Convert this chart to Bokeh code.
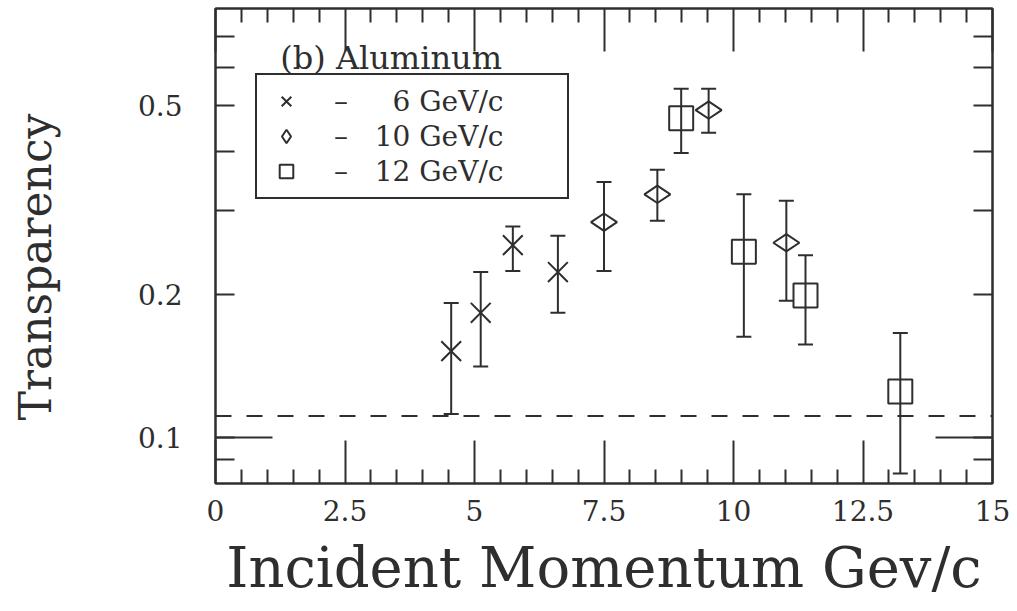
import math
from bokeh.plotting import figure
from bokeh.models import (ColumnDataSource, Whisker, TeeHead, Span, Legend, LegendItem,
                          FixedTicker, LinearAxis, LogAxis, Label)
from bokeh.embed import file_html
from bokeh.resources import INLINE

# ---- data ----
p6_x = [4.55, 5.12, 5.74, 6.61]
p6_y = [0.152, 0.183, 0.254, 0.223]
p6_lo = [0.112, 0.141, 0.224, 0.183]
p6_hi = [0.192, 0.223, 0.278, 0.266]

p10_x = [7.50, 8.53, 9.52, 11.02]
p10_y = [0.284, 0.325, 0.489, 0.257]
p10_lo = [0.224, 0.286, 0.438, 0.194]
p10_hi = [0.345, 0.366, 0.542, 0.315]

p12_x = [8.99, 10.20, 11.39, 13.22]
p12_y = [0.470, 0.246, 0.199, 0.125]
p12_lo = [0.397, 0.163, 0.157, 0.084]
p12_hi = [0.542, 0.325, 0.242, 0.166]

series_labels = ["\u2013   \u20076 GeV/c", "\u2013   10 GeV/c", "\u2013   12 GeV/c"]
baseline_level = 0.111

x_ticks = [0, 2.5, 5, 7.5, 10, 12.5, 15]
x_tick_labels = ["0", "2.5", "5", "7.5", "10", "12.5", "15"]
x_minor = [0.5, 1, 1.5, 2, 3, 3.5, 4, 4.5, 5.5, 6, 6.5, 7, 8, 8.5, 9, 9.5,
           10.5, 11, 11.5, 12, 13, 13.5, 14, 14.5]
y_ticks = [0.1, 0.2, 0.5]
y_tick_labels = ["0.1", "0.2", "0.5"]
y_minor = [0.09, 0.3, 0.4, 0.6, 0.7]
long_tick_level = 0.1
long_tick_len = 1.1

x_title = "Incident Momentum Gev/c"
y_title = "Transparency"
panel_title = "(b) Aluminum"

INK = "#2e2e2e"
FONT = "DejaVu Serif"

p = figure(width=1017, height=611, x_range=(0, 15), y_range=(0.08, 0.8),
           y_axis_type="log", output_backend="svg", toolbar_location=None,
           min_border_left=215, min_border_right=25, min_border_top=8,
           min_border_bottom=128)
p.background_fill_color = "white"
p.border_fill_color = "white"
p.outline_line_color = INK
p.outline_line_width = 2
p.grid.visible = False

def style_ticks(ax, major_in, minor_in):
    ax.major_tick_in = major_in
    ax.major_tick_out = 0
    ax.minor_tick_in = minor_in
    ax.minor_tick_out = 0
    ax.major_tick_line_width = 2
    ax.minor_tick_line_width = 2
    ax.major_tick_line_color = INK
    ax.minor_tick_line_color = INK
    ax.axis_line_color = INK
    ax.axis_line_width = 2

# bottom x axis
xa = p.xaxis[0]
xa.ticker = FixedTicker(ticks=x_ticks, minor_ticks=x_minor)
xa.major_label_overrides = dict(zip(x_ticks, x_tick_labels))
style_ticks(xa, 43, 14)
xa.major_label_text_font = FONT
xa.major_label_text_font_size = "28px"
xa.major_label_text_color = INK
xa.major_label_standoff = 16
xa.axis_label = x_title
xa.axis_label_text_font = FONT
xa.axis_label_text_font_style = "normal"
xa.axis_label_text_font_size = "56px"
xa.axis_label_text_color = INK
xa.axis_label_standoff = 11

# left y axis (trailing no-break spaces nudge the title down like the original)
ya = p.yaxis[0]
ya.ticker = FixedTicker(ticks=y_ticks, minor_ticks=y_minor)
ya.major_label_overrides = dict(zip(y_ticks, y_tick_labels))
style_ticks(ya, 19, 19)
ya.major_label_text_font = FONT
ya.major_label_text_font_size = "28px"
ya.major_label_text_color = INK
ya.major_label_standoff = 33
ya.axis_label = y_title + "\u00a0\u00a0\u00a0"
ya.axis_label_text_font = FONT
ya.axis_label_text_font_style = "normal"
ya.axis_label_text_font_size = "44px"
ya.axis_label_text_color = INK
ya.axis_label_standoff = 74

# mirrored top and right axes (ticks only)
top = LinearAxis(ticker=FixedTicker(ticks=x_ticks, minor_ticks=x_minor),
                 major_label_overrides={t: "" for t in x_ticks}, major_label_standoff=0)
style_ticks(top, 43, 14)
p.add_layout(top, "above")
right = LogAxis(ticker=FixedTicker(ticks=y_ticks, minor_ticks=y_minor),
                major_label_overrides={t: "" for t in y_ticks}, major_label_standoff=0)
style_ticks(right, 19, 19)
p.add_layout(right, "right")

# long tick at 0.1 on both sides
p.segment(x0=[0, 15 - long_tick_len], x1=[long_tick_len, 15],
          y0=[long_tick_level, long_tick_level], y1=[long_tick_level, long_tick_level],
          line_color=INK, line_width=2)

# dashed baseline
p.add_layout(Span(location=baseline_level, dimension="width", line_color=INK,
                  line_width=2, line_dash="16 15"))

def add_series(xs, ys, lo, hi, marker, size, angle=0.0):
    src = ColumnDataSource(dict(x=xs, y=ys, lo=lo, hi=hi))
    p.add_layout(Whisker(source=src, base="x", upper="hi", lower="lo",
                         line_color=INK, line_width=2,
                         upper_head=TeeHead(size=15, line_color=INK, line_width=2),
                         lower_head=TeeHead(size=15, line_color=INK, line_width=2)))
    return p.scatter("x", "y", source=src, marker=marker, size=size, angle=angle,
                     fill_color=None, line_color=INK, line_width=2)

r6 = add_series(p6_x, p6_y, p6_lo, p6_hi, "x", 28)
r10 = add_series(p10_x, p10_y, p10_lo, p10_hi, "diamond", 26, angle=math.pi / 2)
r12 = add_series(p12_x, p12_y, p12_lo, p12_hi, "square", 24)

legend = Legend(items=[LegendItem(label=series_labels[0], renderers=[r6]),
                       LegendItem(label=series_labels[1], renderers=[r10]),
                       LegendItem(label=series_labels[2], renderers=[r12])],
                location=(40, 284), padding=9, spacing=1, margin=0,
                label_height=34, label_width=224, glyph_height=34, glyph_width=40,
                label_standoff=28,
                label_text_font=FONT, label_text_font_size="28px", label_text_color=INK,
                border_line_color=INK, border_line_width=2, border_line_alpha=1.0,
                background_fill_color="white", background_fill_alpha=1.0)
p.add_layout(legend)

p.add_layout(Label(x=1.25, y=0.628, text=panel_title, text_baseline="middle",
                   text_font=FONT, text_font_size="32px", text_color=INK))

open("out.html", "w").write(file_html(p, INLINE))
